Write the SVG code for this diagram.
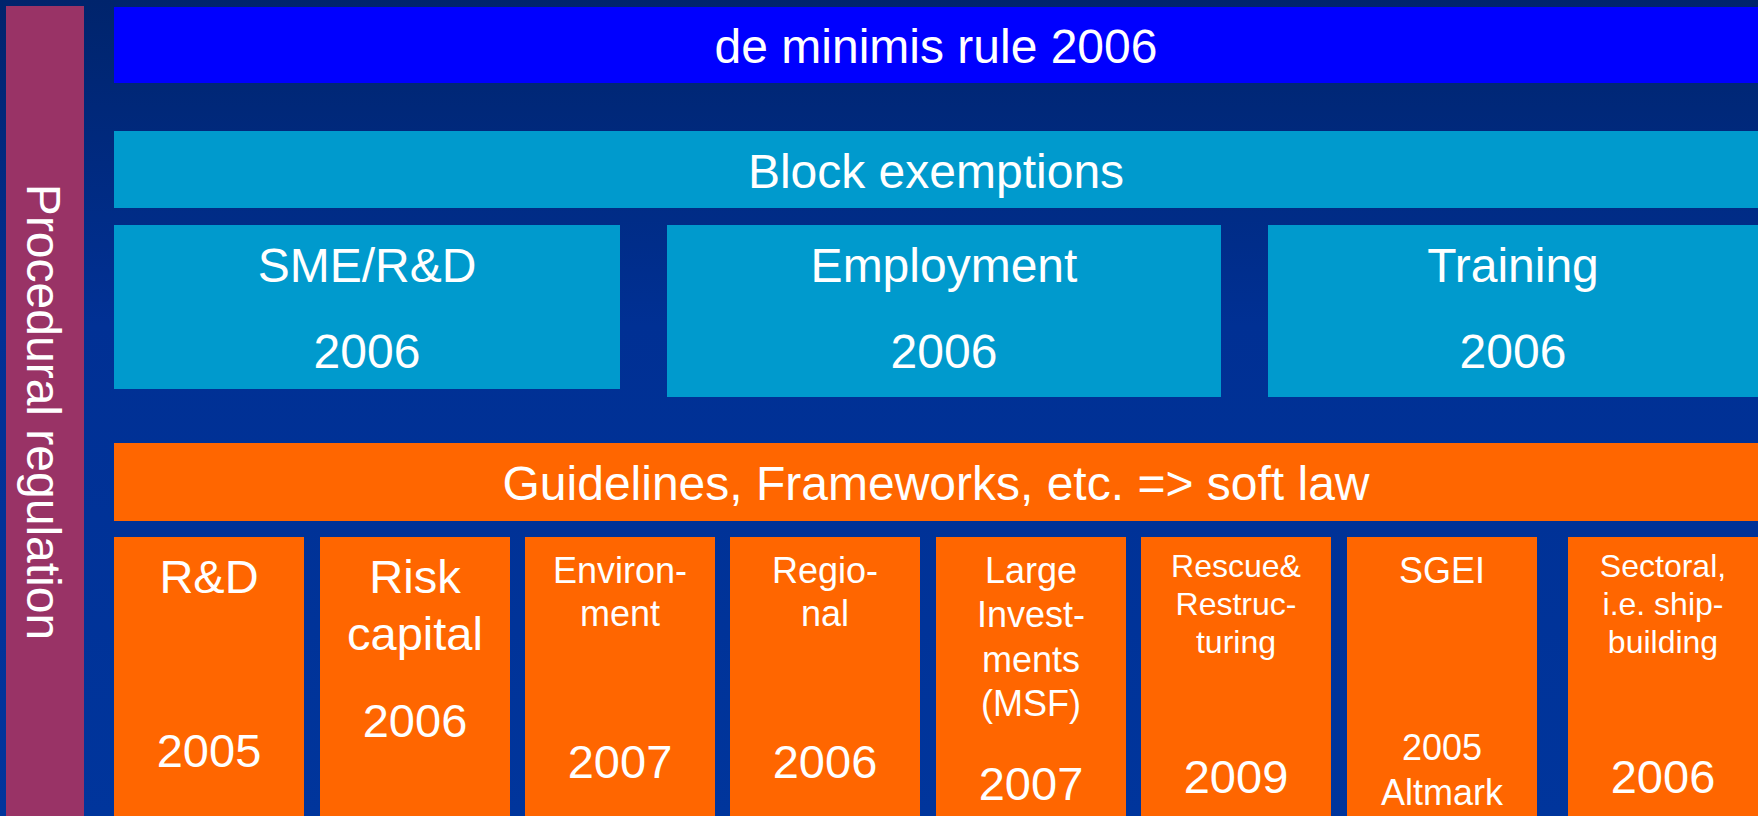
<svg xmlns="http://www.w3.org/2000/svg" width="1758" height="816" viewBox="0 0 1758 816">
<defs>
<linearGradient id="bg" x1="0" y1="0" x2="0" y2="1">
<stop offset="0" stop-color="#00246C"/>
<stop offset="0.4" stop-color="#003094"/>
<stop offset="1" stop-color="#00359C"/>
</linearGradient>
<style>
text{font-family:"Liberation Sans",Arial,sans-serif;fill:#FFFFFF;text-anchor:middle}
.t48{font-size:48px}
.t47{font-size:47px}
.t36{font-size:36px}
.t32{font-size:32px}
.cyan{fill:#009ACD}
.orange{fill:#FF6600}
</style>
</defs>
<rect x="0" y="0" width="1758" height="816" fill="url(#bg)"/>

<g id="procedural-regulation">
<rect x="6" y="6" width="78" height="810" fill="#993366"/>
<text class="t48" transform="translate(27,412) rotate(90)" x="0" y="0">Procedural regulation</text>
</g>

<g id="de-minimis">
<rect x="114" y="7" width="1644" height="76" fill="#0000FF"/>
<text class="t48" x="936" y="63">de minimis rule 2006</text>
</g>

<g id="block-exemptions">
<rect class="cyan" x="114" y="131" width="1644" height="77"/>
<text class="t48" x="936" y="188">Block exemptions</text>
</g>

<g id="sme-rd">
<rect class="cyan" x="114" y="225" width="506" height="164"/>
<text class="t48" x="367" y="282">SME/R&amp;D</text>
<text class="t48" x="367" y="368">2006</text>
</g>

<g id="employment">
<rect class="cyan" x="667" y="225" width="554" height="172"/>
<text class="t48" x="944" y="282">Employment</text>
<text class="t48" x="944" y="368">2006</text>
</g>

<g id="training">
<rect class="cyan" x="1268" y="225" width="490" height="172"/>
<text class="t48" x="1513" y="282">Training</text>
<text class="t48" x="1513" y="368">2006</text>
</g>

<g id="guidelines">
<rect class="orange" x="114" y="443" width="1644" height="78"/>
<text class="t48" x="936" y="500">Guidelines, Frameworks, etc. =&gt; soft law</text>
</g>

<g id="rd">
<rect class="orange" x="114" y="537" width="190" height="279"/>
<text class="t47" x="209" y="593">R&amp;D</text>
<text class="t47" x="209" y="767">2005</text>
</g>

<g id="risk-capital">
<rect class="orange" x="320" y="537" width="190" height="279"/>
<text class="t47" x="415" y="593">Risk</text>
<text class="t47" x="415" y="650">capital</text>
<text class="t47" x="415" y="737">2006</text>
</g>

<g id="environment">
<rect class="orange" x="525" y="537" width="190" height="279"/>
<text class="t36" x="620" y="583">Environ-</text>
<text class="t36" x="620" y="626">ment</text>
<text class="t47" x="620" y="778">2007</text>
</g>

<g id="regional">
<rect class="orange" x="730" y="537" width="190" height="279"/>
<text class="t36" x="825" y="583">Regio-</text>
<text class="t36" x="825" y="626">nal</text>
<text class="t47" x="825" y="778">2006</text>
</g>

<g id="large-investments">
<rect class="orange" x="936" y="537" width="190" height="279"/>
<text class="t36" x="1031" y="583">Large</text>
<text class="t36" x="1031" y="627">Invest-</text>
<text class="t36" x="1031" y="672">ments</text>
<text class="t36" x="1031" y="716">(MSF)</text>
<text class="t47" x="1031" y="800">2007</text>
</g>

<g id="rescue-restructuring">
<rect class="orange" x="1141" y="537" width="190" height="279"/>
<text class="t32" x="1236" y="577">Rescue&amp;</text>
<text class="t32" x="1236" y="615">Restruc-</text>
<text class="t32" x="1236" y="653">turing</text>
<text class="t47" x="1236" y="793">2009</text>
</g>

<g id="sgei">
<rect class="orange" x="1347" y="537" width="190" height="279"/>
<text class="t36" x="1442" y="583">SGEI</text>
<text class="t36" x="1442" y="760">2005</text>
<text class="t36" x="1442" y="805">Altmark</text>
</g>

<g id="sectoral">
<rect class="orange" x="1568" y="537" width="190" height="279"/>
<text class="t32" x="1663" y="577">Sectoral,</text>
<text class="t32" x="1663" y="615">i.e. ship-</text>
<text class="t32" x="1663" y="653">building</text>
<text class="t47" x="1663" y="793">2006</text>
</g>

<g id="connectors"></g>
</svg>
